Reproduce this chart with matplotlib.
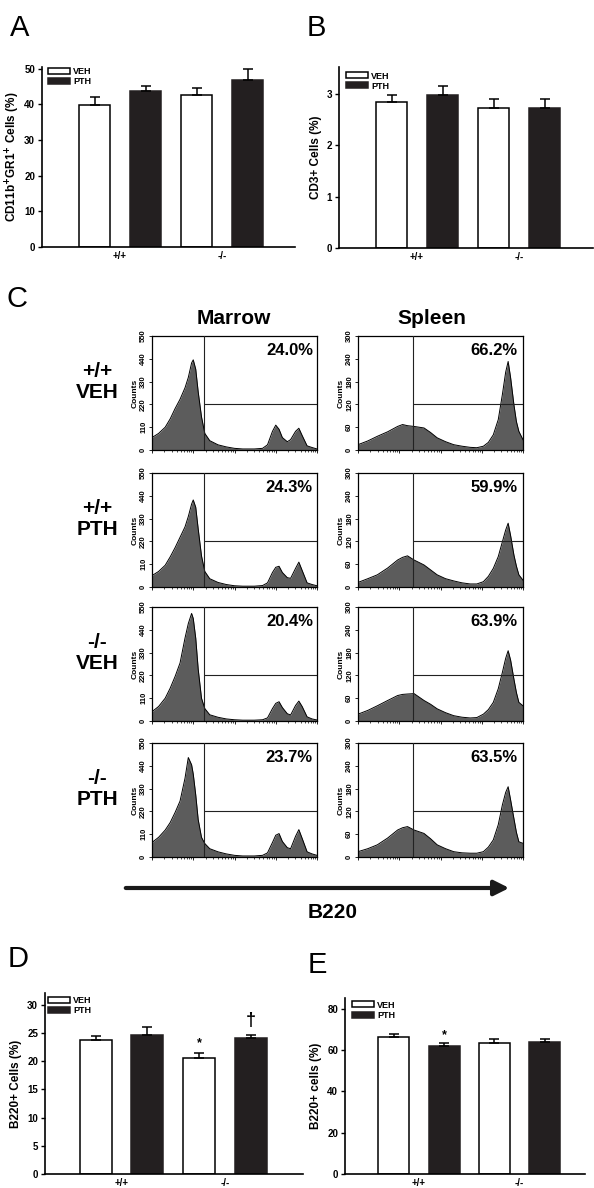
import numpy as np
import matplotlib
matplotlib.use('Agg')
import matplotlib.pyplot as plt
from matplotlib.patches import Patch, FancyArrowPatch

plt.rcParams['font.family'] = ['Liberation Sans', 'DejaVu Sans']

# ---------------- data ----------------
groups = ['+/+', '-/-']
treatments = ['VEH', 'PTH']

# A: CD11b+GR1+ cells (%)
cd11b_veh = [39.8, 42.6]
cd11b_veh_err = [2.4, 1.9]
cd11b_pth = [43.7, 46.9]
cd11b_pth_err = [1.4, 3.1]

# B: CD3+ cells (%)
cd3_veh = [2.85, 2.73]
cd3_veh_err = [0.13, 0.17]
cd3_pth = [2.99, 2.74]
cd3_pth_err = [0.17, 0.17]

# D: B220+ cells marrow (%)
b220_marrow_veh = [23.7, 20.5]
b220_marrow_veh_err = [0.8, 1.0]
b220_marrow_pth = [24.6, 24.1]
b220_marrow_pth_err = [1.4, 0.6]

# E: B220+ cells spleen (%)
b220_spleen_veh = [66.6, 63.7]
b220_spleen_veh_err = [1.3, 1.5]
b220_spleen_pth = [62.1, 63.8]
b220_spleen_pth_err = [1.6, 1.5]

# C: flow histograms (x = fraction of the B220 axis, y = counts)
row_labels = ['+/+\nVEH', '+/+\nPTH', '-/-\nVEH', '-/-\nPTH']
marrow_pct = ['24.0%', '24.3%', '20.4%', '23.7%']
spleen_pct = ['66.2%', '59.9%', '63.9%', '63.5%']

marrow_x = [0, .04, .08, .11, .14, .17, .20, .22, .24, .25, .265, .28, .30, .32, .35,
            .40, .45, .50, .55, .62, .67, .70, .73, .75, .77, .79, .82, .84, .87, .89,
            .91, .94, .97, 1.0]
marrow_ticks = [0, 110, 220, 330, 440, 550]
marrow_gate = (0.316, 220)
marrow_counts = [
    [60, 80, 110, 150, 200, 245, 300, 350, 420, 435, 390, 280, 160, 80, 45,
     25, 15, 8, 5, 5, 8, 25, 90, 120, 100, 60, 40, 50, 90, 105, 70, 20, 12, 5],
    [55, 75, 105, 145, 190, 240, 290, 340, 400, 420, 385, 280, 150, 75, 40,
     22, 12, 6, 4, 4, 7, 20, 70, 95, 100, 70, 45, 42, 90, 120, 80, 20, 12, 6],
    [45, 70, 110, 158, 215, 280, 400, 470, 519, 495, 400, 250, 110, 60, 30,
     18, 10, 6, 4, 4, 6, 15, 60, 85, 93, 65, 35, 29, 75, 96, 70, 20, 10, 5],
    [70, 95, 130, 166, 215, 270, 380, 480, 445, 400, 300, 180, 95, 65, 40,
     25, 15, 8, 5, 5, 8, 20, 70, 105, 113, 75, 45, 40, 100, 132, 90, 25, 15, 8],
]

spleen_x = [0, .06, .117, .18, .24, .27, .30, .34, .40, .44, .48, .53, .58, .63, .68,
            .72, .76, .79, .82, .85, .875, .895, .91, .925, .945, .96, .975, 1.0]
spleen_ticks = [0, 60, 120, 180, 240, 300]
spleen_gate = (0.335, 120)
spleen_counts = [
    [14, 24, 36, 48, 62, 67, 64, 62, 58, 46, 32, 22, 14, 10, 7,
     6, 10, 20, 40, 80, 146, 205, 233, 190, 119, 75, 49, 27],
    [12, 22, 32, 50, 71, 78, 82, 71, 58, 45, 32, 22, 16, 11, 8,
     8, 14, 28, 49, 80, 119, 150, 168, 135, 84, 55, 32, 18],
    [18, 28, 40, 54, 67, 70, 71, 72, 54, 44, 32, 22, 14, 10, 8,
     9, 18, 30, 49, 85, 128, 165, 185, 160, 110, 75, 49, 40],
    [14, 22, 32, 50, 71, 77, 80, 71, 62, 48, 32, 22, 14, 11, 10,
     10, 14, 26, 45, 85, 137, 170, 185, 150, 101, 65, 40, 36],
]

# ---------------- figure ----------------
W, H = 594, 1188
fig = plt.figure(figsize=(W / 100, H / 100), dpi=100)
dark = '#231f20'
grey = '#5c5c5c'


def px_axes(left, top, right, bottom):
    # axes placed with pixel coordinates measured from the top-left corner
    return fig.add_axes([left / W, 1 - bottom / H, (right - left) / W, (bottom - top) / H])


def bar_panel(ax, veh, veh_err, pth, pth_err, ylim, yticks, xlim, ylabel, label_x, leg_anchor):
    pos_veh = np.array([1, 3])
    pos_pth = pos_veh + 1
    ax.bar(pos_veh, veh, 0.62, color='white', edgecolor='black', lw=1.1, zorder=2)
    ax.bar(pos_pth, pth, 0.62, color=dark, edgecolor=dark, lw=1.1, zorder=2)
    for pos, vals, err in [(pos_veh, veh, veh_err), (pos_pth, pth, pth_err)]:
        ax.errorbar(pos, vals, yerr=[np.zeros(len(err)), err], fmt='none', ecolor='black',
                    elinewidth=1.1, capsize=3.6, capthick=1.1, zorder=3)
    ax.set_xlim(*xlim)
    ax.set_ylim(*ylim)
    ax.set_yticks(yticks)
    ax.set_yticklabels([str(t) for t in yticks], fontsize=7, fontweight='bold')
    ax.set_xticks([1.5, 3.5])
    ax.set_xticklabels(groups, fontsize=7, fontweight='bold')
    ax.tick_params(axis='x', length=0, pad=3)
    ax.tick_params(axis='y', length=3, width=1, pad=2)
    for s in ['top', 'right']:
        ax.spines[s].set_visible(False)
    for s in ['left', 'bottom']:
        ax.spines[s].set_linewidth(1.2)
    ax.set_ylabel(ylabel, fontsize=8.5, fontweight='bold')
    # label_x is where the right edge of the rotated label sits
    ax.yaxis.set_label_coords(label_x, 0.5)
    handles = [Patch(facecolor='white', edgecolor='black', lw=1.1, label=treatments[0]),
               Patch(facecolor=dark, edgecolor=dark, lw=1.1, label=treatments[1])]
    ax.legend(handles=handles, loc='upper left', bbox_to_anchor=leg_anchor, frameon=False,
              prop={'size': 6.5, 'weight': 'bold'}, handlelength=2.4, handleheight=0.65,
              handletextpad=0.35, labelspacing=0.12, borderpad=0, borderaxespad=0)


def hist_panel(ax, x, y, ticks, gate, pct, pct_x):
    ax.fill_between(x, y, color=grey, lw=0, zorder=1)
    ax.plot(x, y, color='black', lw=0.7, zorder=2)
    ax.set_xlim(0, 1)
    ax.set_ylim(0, ticks[-1])
    ax.axvline(gate[0], color='#222222', lw=0.8, zorder=3)
    ax.hlines(gate[1], gate[0], 1, color='#222222', lw=0.8, zorder=3)
    ax.set_yticks(ticks)
    ax.set_yticklabels([str(t) for t in ticks], rotation=90, va='center',
                       fontsize=5.5, fontweight='bold')
    ax.set_ylabel('Counts', fontsize=6, fontweight='bold', labelpad=1)
    # log-like FACS axis: decades + minor ticks, no labels
    ax.set_xticks([0, 0.25, 0.5, 0.75, 1.0])
    minor = [(d + np.log10(k)) / 4 for d in range(4) for k in range(2, 10)]
    ax.set_xticks(minor, minor=True)
    ax.set_xticklabels([])
    ax.tick_params(axis='x', which='major', length=2.5, width=0.6)
    ax.tick_params(axis='x', which='minor', length=1.5, width=0.5)
    ax.tick_params(axis='y', length=2, width=0.6, pad=1.5)
    for s in ax.spines.values():
        s.set_linewidth(0.9)
    ax.text(pct_x, 0.83, pct, transform=ax.transAxes, ha='right', va='baseline',
            fontsize=12, fontweight='bold')


# panel A
axA = px_axes(42, 67, 295, 247)
bar_panel(axA, cd11b_veh, cd11b_veh_err, cd11b_pth, cd11b_pth_err, (0, 50.5),
          [0, 10, 20, 30, 40, 50], (-0.03, 4.93),
          r'CD11b$^{\mathbf{+}}$GR1$^{\mathbf{+}}$ Cells (%)', -20 / 253, (0.024, 1.0))

# panel B
axB = px_axes(339, 67, 593, 248)
bar_panel(axB, cd3_veh, cd3_veh_err, cd3_pth, cd3_pth_err, (0, 3.53),
          [0, 1, 2, 3], (-0.03, 4.95), 'CD3+ Cells (%)', -17 / 254, (0.028, 0.975))

# panel D
axD = px_axes(45, 993, 303, 1174)
bar_panel(axD, b220_marrow_veh, b220_marrow_veh_err, b220_marrow_pth, b220_marrow_pth_err,
          (0, 32.1), [0, 5, 10, 15, 20, 25, 30], (0.02, 5.01), 'B220+ Cells (%)',
          -23 / 258, (0.012, 0.985))
axD.text(3, b220_marrow_veh[1] + b220_marrow_veh_err[1] + 0.6, '*', ha='center', va='bottom',
         fontsize=9, fontweight='bold')
axD.text(4, b220_marrow_pth[1] + b220_marrow_pth_err[1] + 1.0, '\u2020', ha='center',
         va='bottom', fontsize=13, fontweight='bold')

# panel E
axE = px_axes(345, 998, 585, 1174)
bar_panel(axE, b220_spleen_veh, b220_spleen_veh_err, b220_spleen_pth, b220_spleen_pth_err,
          (0, 85.3), [0, 20, 40, 60, 80], (0.03, 4.80), 'B220+ cells (%)',
          -23 / 240, (0.03, 0.985))
axE.text(2, b220_spleen_pth[0] + b220_spleen_pth_err[0] + 0.8, '*', ha='center', va='bottom',
         fontsize=9, fontweight='bold')

# panel C: histograms
row_tops = [336, 473, 607, 743]
for i, top in enumerate(row_tops):
    axm = px_axes(152, top, 317, top + 114)
    hist_panel(axm, marrow_x, marrow_counts[i], marrow_ticks, marrow_gate, marrow_pct[i], 0.975)
    axs = px_axes(358, top, 523, top + 114)
    hist_panel(axs, spleen_x, spleen_counts[i], spleen_ticks, spleen_gate, spleen_pct[i], 0.965)
    fig.text(97 / W, 1 - (top + 46) / H, row_labels[i], ha='center', va='center',
             fontsize=15, fontweight='bold', linespacing=1.1)

fig.text(234 / W, 1 - 324 / H, 'Marrow', ha='center', va='baseline', fontsize=15,
         fontweight='bold')
fig.text(432 / W, 1 - 324 / H, 'Spleen', ha='center', va='baseline', fontsize=15,
         fontweight='bold')

arrow = FancyArrowPatch((123 / W, 1 - 888 / H), (512 / W, 1 - 888 / H),
                        transform=fig.transFigure, arrowstyle='-|>,head_length=0.9,head_width=0.45',
                        mutation_scale=10, lw=3, color='#1a1a1a')
fig.add_artist(arrow)
fig.text(333 / W, 1 - 918 / H, 'B220', ha='center', va='baseline', fontsize=15,
         fontweight='bold')

# panel letters
for letter, x, y in [('A', 10, 36), ('B', 307, 36), ('C', 7, 307), ('D', 8, 967), ('E', 308, 973)]:
    fig.text(x / W, 1 - y / H, letter, ha='left', va='baseline', fontsize=21)

fig.savefig('out.png', dpi=100)
